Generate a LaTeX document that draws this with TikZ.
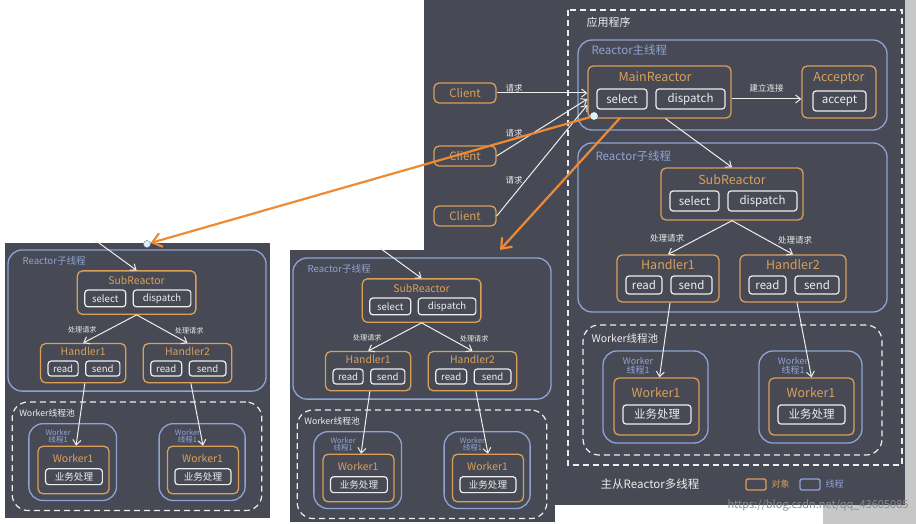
\documentclass[tikz,border=0pt]{standalone}
\usepackage{fontspec}
\setmainfont{Noto Sans CJK SC}
\usetikzlibrary{arrows.meta,calc}
\definecolor{bgd}{HTML}{474A54}
\definecolor{org}{HTML}{D9A05B}
\definecolor{blu}{HTML}{8FA3D4}
\definecolor{wht}{HTML}{EEEEEE}
\definecolor{oarr}{HTML}{EE8A35}
\tikzset{
 obox/.style={draw=org,line width=1.3pt,rounded corners=5pt},
 bbox/.style={draw=blu,line width=1.3pt,rounded corners=14pt},
 wbox/.style={draw=wht,line width=1.2pt,rounded corners=3pt,text=wht,font=\fontsize{11.5}{12}\selectfont},
 pool/.style={draw=wht,line width=1.2pt,dashed,dash pattern=on 6pt off 4pt,rounded corners=16pt},
 otit/.style={text=org,font=\fontsize{12.5}{13}\selectfont},
 blab/.style={text=blu,font=\fontsize{11.5}{12}\selectfont},
 slab/.style={text=wht,font=\fontsize{8.5}{9}\selectfont},
 wlab/.style={text=blu,font=\fontsize{9}{9}\selectfont,align=center,inner sep=0pt},
 warr/.style={draw=wht,line width=1pt,-{Straight Barb[length=5pt,width=8pt]}},
 oa/.style={draw=oarr,line width=2.2pt,-{Straight Barb[length=9pt,width=14pt]}},
}
\newcommand\bx[7]{%
 \pgfmathsetmacro\bw{#5-#3}\pgfmathsetmacro\bh{#6-#4}%
 \node[#1,minimum width=\bw pt,minimum height=\bh pt,inner sep=0pt] (#2) at ({(#3+#5)/2},{(#4+#6)/2}) {#7};}
\newcommand\subdiag[1]{%
 \bx{bbox}{#1rs}{578}{143}{887}{312}{}
 \node[blab,anchor=west] (#1rsl) at (592,156) {Reactor子线程};
 \bx{obox}{#1sr}{661}{168}{803}{220}{}
 \node[otit] (#1srt) at (732,180) {SubReactor};
 \bx{wbox}{#1ss}{670}{191}{719}{211}{select}
 \bx{wbox}{#1sd}{728}{191}{797}{211}{dispatch}
 \bx{obox}{#1ha}{617}{255}{719}{302}{}
 \node[otit] (#1hat) at (668,265) {Handler1};
 \bx{wbox}{#1har}{626}{276}{662}{294}{read}
 \bx{wbox}{#1has}{671}{276}{712}{294}{send}
 \bx{obox}{#1hb}{740}{255}{846}{302}{}
 \node[otit] (#1hbt) at (793,265) {Handler2};
 \bx{wbox}{#1hbr}{749}{276}{786}{294}{read}
 \bx{wbox}{#1hbs}{795}{276}{839}{294}{send}
 \draw[warr] (#1sr.south) -- (#1ha.north);
 \draw[warr] (#1sr.south) -- (#1hb.north);
 \node[slab] (#1p1) at (667,238) {处理请求};
 \node[slab] (#1p2) at (795,240) {处理请求};
 \bx{pool}{#1wp}{583}{325}{882}{455}{}
 \node[text=wht,font=\fontsize{10.5}{11}\selectfont,anchor=west] (#1wpl) at (588,338) {Worker线程池};
 \bx{bbox}{#1ta}{603}{351}{708}{443}{}
 \bx{bbox}{#1tb}{759}{351}{862}{443}{}
 \node[wlab] (#1tal) at (638,366) {Worker\\线程1};
 \node[wlab] (#1tbl) at (793,366) {Worker\\线程1};
 \bx{obox}{#1wa}{614}{378}{699}{435}{}
 \bx{obox}{#1wb}{769}{378}{854}{435}{}
 \node[otit] (#1wat) at (656,393) {Worker1};
 \node[otit] (#1wbt) at (811,393) {Worker1};
 \bx{wbox}{#1ba}{623}{405}{691}{424}{业务处理}
 \bx{wbox}{#1bb}{778}{405}{845}{424}{业务处理}
 \draw[warr] ($(#1ha.south)+(2,0)$) -- ($(#1wa.north)+(3,0)$);
 \draw[warr] ($(#1hb.south)+(4,0)$) -- ($(#1wb.north)+(0,0)$);
}
\begin{document}
\begin{tikzpicture}[x=1pt,y=-1pt]
\useasboundingbox (0,0) rectangle (916,524);
\fill[white] (0,0) rectangle (916,524);
\fill[black!22] (823,505) rectangle (916,524);
\fill[black!22] (905,0) rectangle (916,524);
\fill[bgd] (424,0) rectangle (905,505);
% main diagram
\draw[pool,rounded corners=0pt] (568,10) rectangle (902,465);
\node[text=wht,font=\fontsize{11}{11}\selectfont,anchor=west] (app) at (583,22) {应用程序};
\bx{bbox}{mt}{578}{40}{887}{130}{}
\node[blab,anchor=west] (mtl) at (588,50) {Reactor主线程};
\bx{obox}{mr}{588}{66}{731}{118}{}
\node[otit] (mrt) at (655,77) {MainReactor};
\bx{wbox}{ms}{597}{89}{647}{109}{select}
\bx{wbox}{md}{656}{89}{725}{109}{dispatch}
\bx{obox}{ac}{802}{66}{876}{118}{}
\node[otit] (act) at (839,78) {Acceptor};
\bx{wbox}{aa}{813}{91}{866}{111}{accept}
\draw[warr] (mr.east|-md) -- (ac.west|-md) node[midway,above=3pt,slab] {建立连接};
\bx{obox,text=org,font=\fontsize{11.5}{12}\selectfont}{c1}{434}{83}{496}{103}{Client}
\bx{obox,text=org,font=\fontsize{11.5}{12}\selectfont}{c2}{434}{146}{496}{166}{Client}
\bx{obox,text=org,font=\fontsize{11.5}{12}\selectfont}{c3}{434}{206}{496}{226}{Client}
\draw[warr] (c1.east) -- ($(mr.west)+(0,1)$);
\draw[warr] (c2.east) -- ($(mr.west)+(0,7)$);
\draw[warr] (c3.east) -- ($(mr.west)+(0,13)$);
\node[slab] (q1) at (514,88) {请求};
\node[slab] (q2) at (514,133) {请求};
\node[slab] (q3) at (514,180) {请求};
\subdiag{r}
\draw[warr] ($(mr.south)+(6,0)$) -- (rsr.north);
% legend
\node[text=wht,font=\fontsize{11.5}{12}\selectfont] (leg) at (650,484) {主从Reactor多线程};
\draw[obox,rounded corners=2pt] (746,479) rectangle (766,490);
\node[text=org,font=\fontsize{9}{10}\selectfont,anchor=west] (lo) at (768,484) {对象};
\draw[bbox,rounded corners=2pt] (800,479) rectangle (820,490);
\node[text=blu,font=\fontsize{9}{10}\selectfont,anchor=west] (lb) at (822,484) {线程};
\node[text=black!45,font=\fontsize{11}{12}\selectfont,anchor=east] (wm) at (912,505) {https://blog.csdn.net/qq\_43605085};
% left copy
\fill[bgd] (5,243) rectangle (270,518);
\begin{scope}[shift={(8,250)},scale=0.835,shift={(-578,-143)},transform shape]
\subdiag{l}
\coordinate (lin) at (682,131);
\draw[warr] (lin) -- (lsr.north);
\end{scope}
% middle copy
\fill[bgd] (290,250) rectangle (555,522);
\begin{scope}[shift={(293,258)},scale=0.835,shift={(-578,-143)},transform shape]
\subdiag{m}
\coordinate (min) at (682,131);
\draw[warr] (min) -- (msr.north);
\end{scope}
% orange arrows
\node[circle,fill=cyan!15,draw=white,inner sep=2.5pt] (d1) at (594,116) {};
\node[circle,fill=cyan!15,draw=gray,inner sep=2.5pt] (d2) at (147,244) {};
\draw[oa] (d1) -- (d2);
\coordinate (o2) at (620,118);
\coordinate (o2e) at (500,250);
\draw[oa] (o2) -- (o2e);
\end{tikzpicture}
\end{document}
